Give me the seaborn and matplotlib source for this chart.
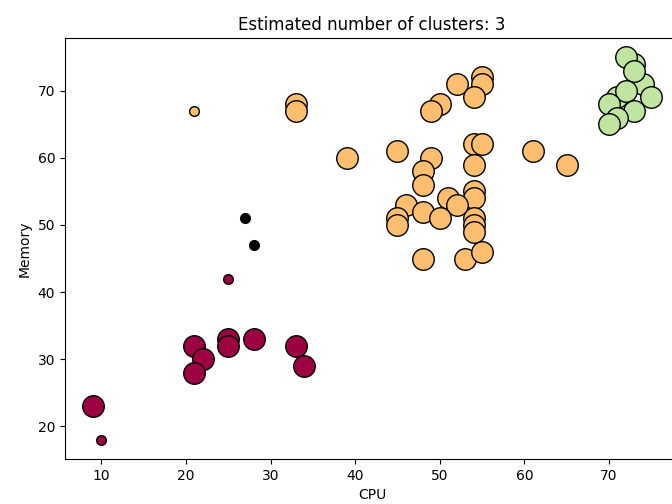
import numpy as np
import pandas as pd
import matplotlib
matplotlib.use("Agg")
import matplotlib.pyplot as plt
import seaborn as sns

# Cluster 0 (dark red)
red_core_cpu = [9, 21, 22, 21, 25, 25, 28, 33, 34]
red_core_mem = [23, 32, 30, 28, 33, 32, 33, 32, 29]
red_edge_cpu = [10, 25]
red_edge_mem = [18, 42]

# Cluster 1 (orange)
orange_core_cpu = [33, 33, 52, 55, 55, 54, 50, 49, 39, 45, 49, 48, 48, 54, 55, 54,
                   61, 65, 54, 54, 54, 54, 54, 51, 52, 46, 48, 50, 45, 45, 48, 53, 55]
orange_core_mem = [68, 67, 71, 72, 71, 69, 68, 67, 60, 61, 60, 58, 56, 62, 62, 59,
                   61, 59, 55, 54, 51, 50, 49, 54, 53, 53, 52, 51, 51, 50, 45, 45, 46]
orange_edge_cpu = [21]
orange_edge_mem = [67]

# Cluster 2 (light green)
green_core_cpu = [73, 74, 71, 72, 73, 72, 75, 70, 73, 71, 70]
green_core_mem = [74, 71, 69, 75, 73, 70, 69, 68, 67, 66, 65]
green_edge_cpu = []
green_edge_mem = []

# Noise
noise_cpu = [27, 28]
noise_mem = [51, 47]

title = "Estimated number of clusters: 3"

colors = plt.cm.Spectral(np.linspace(0, 1, 4))

fig = plt.figure(figsize=(6.72, 5.04), dpi=100)
ax = fig.add_axes([0.0967, 0.0893, 0.914, 0.8353])

groups = [
    (red_core_cpu, red_core_mem, red_edge_cpu, red_edge_mem, colors[0]),
    (orange_core_cpu, orange_core_mem, orange_edge_cpu, orange_edge_mem, colors[1]),
    (green_core_cpu, green_core_mem, green_edge_cpu, green_edge_mem, colors[2]),
]

big = 15.5 ** 2
small = 7 ** 2

for ccpu, cmem, ecpu, emem, col in groups:
    sns.scatterplot(x=ccpu, y=cmem, color=col, s=big, edgecolor="k",
                    linewidth=1, ax=ax, legend=False, zorder=2)
    if len(ecpu):
        sns.scatterplot(x=ecpu, y=emem, color=col, s=small, edgecolor="k",
                        linewidth=1, ax=ax, legend=False, zorder=2)

sns.scatterplot(x=noise_cpu, y=noise_mem, color="k", s=small, edgecolor="k",
                linewidth=1, ax=ax, legend=False, zorder=2)

ax.set_xlim(5.7, 78.3)
ax.set_ylim(15.15, 77.85)
ax.set_title(title)
ax.set_xlabel("CPU")
ax.set_ylabel("Memory")

fig.savefig("out.png", dpi=100)
